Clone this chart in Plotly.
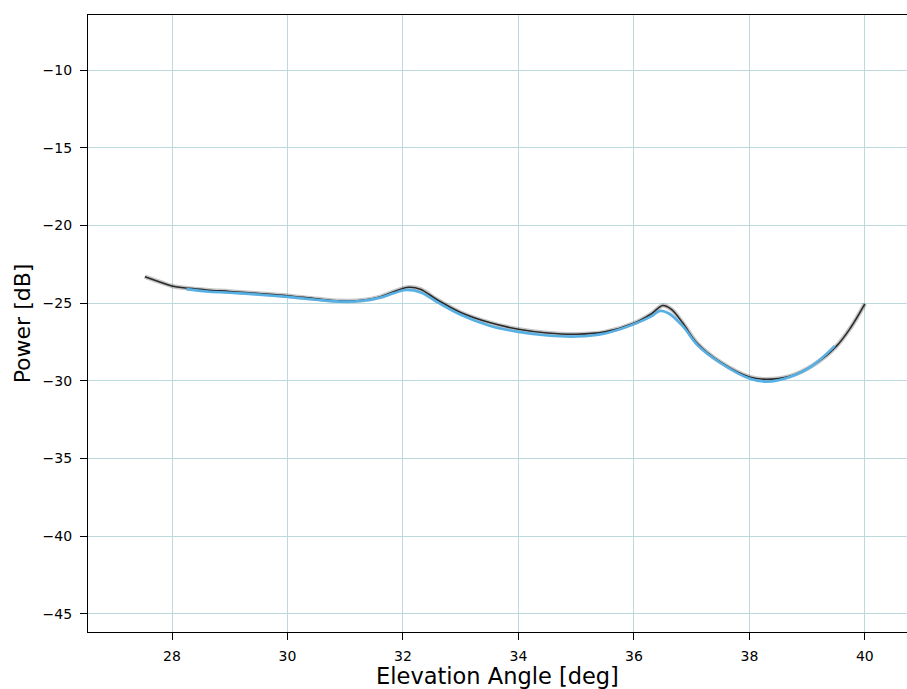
import plotly.graph_objects as go

# Measured power vs elevation angle (dark trace) and fitted model (blue trace)
meas_angle = [27.53, 27.8, 28.0, 28.3, 28.6, 29.0, 29.5, 30.0, 30.5, 30.9, 31.3, 31.6,
              31.85, 32.1, 32.3, 32.6, 33.0, 33.5, 34.0, 34.5, 35.0, 35.5, 36.0, 36.3,
              36.5, 36.65, 36.85, 37.1, 37.5, 38.0, 38.3, 38.7, 39.1, 39.5, 39.75, 40.0]
meas_power = [-23.3, -23.65, -23.9, -24.05, -24.15, -24.25, -24.38, -24.52, -24.72, -24.85,
              -24.82, -24.6, -24.25, -23.98, -24.1, -24.8, -25.6, -26.25, -26.68, -26.92,
              -27.0, -26.85, -26.3, -25.7, -25.15, -25.4, -26.3, -27.6, -28.8, -29.75,
              -29.9, -29.7, -29.0, -27.8, -26.6, -25.05]

model_angle = [28.25, 28.6, 29.0, 29.5, 30.0, 30.5, 30.9, 31.3, 31.6, 31.85, 32.05, 32.3,
               32.6, 33.0, 33.5, 34.0, 34.5, 35.0, 35.5, 36.0, 36.3, 36.45, 36.6, 36.85,
               37.1, 37.5, 38.0, 38.3, 38.7, 39.1, 39.48]
model_power = [-24.1, -24.25, -24.33, -24.45, -24.6, -24.78, -24.9, -24.85, -24.65, -24.35,
               -24.15, -24.3, -24.95, -25.75, -26.45, -26.85, -27.08, -27.15, -26.95, -26.35,
               -25.85, -25.5, -25.65, -26.5, -27.7, -28.85, -29.85, -30.05, -29.75, -29.0,
               -27.75]

x_ticks = [28, 30, 32, 34, 36, 38, 40]
y_ticks = [-45, -40, -35, -30, -25, -20, -15, -10]

fig = go.Figure()
# soft halo under the measured trace
fig.add_trace(go.Scatter(x=meas_angle, y=meas_power, mode="lines",
                         line=dict(color="rgba(0,0,0,0.22)", width=4.5, shape="spline"),
                         hoverinfo="skip", showlegend=False))
fig.add_trace(go.Scatter(x=meas_angle, y=meas_power, mode="lines",
                         line=dict(color="#2a2a2a", width=1.6, shape="spline"),
                         showlegend=False))
fig.add_trace(go.Scatter(x=model_angle, y=model_power, mode="lines",
                         line=dict(color="#56b0e4", width=2.6, shape="spline"),
                         showlegend=False))

axis_font = dict(family="DejaVu Sans", size=14, color="black")
fig.update_layout(
    width=907, height=689,
    margin=dict(l=88, r=0, t=15, b=57),
    paper_bgcolor="white", plot_bgcolor="white",
    font=dict(family="DejaVu Sans", color="black"),
    xaxis=dict(range=[26.545, 40.73], tickvals=x_ticks, tickfont=axis_font,
               showgrid=True, gridcolor="#bcdadd", gridwidth=1, zeroline=False,
               showline=True, linecolor="black", linewidth=1.3, mirror=True,
               ticks="outside", ticklen=7, tickcolor="black", ticklabelstandoff=4,
               title=dict(text="Elevation Angle [deg]", font=dict(size=22.5), standoff=7)),
    yaxis=dict(range=[-46.16, -6.46], tickvals=y_ticks, tickfont=axis_font,
               showgrid=True, gridcolor="#bcdadd", gridwidth=1, zeroline=False,
               showline=True, linecolor="black", linewidth=1.3,
               ticks="outside", ticklen=7, tickcolor="black", ticklabelstandoff=5,
               title=dict(text="Power [dB]", font=dict(size=22), standoff=5)),
)

fig.write_html("out.html")
